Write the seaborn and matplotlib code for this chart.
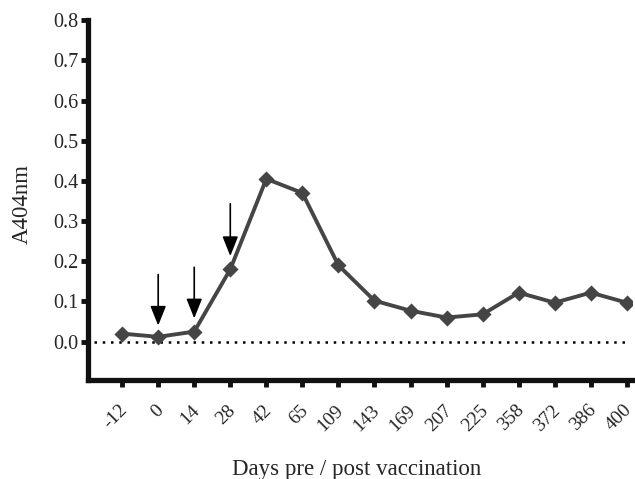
import numpy as np
import pandas as pd
import matplotlib
matplotlib.use("Agg")
import matplotlib.pyplot as plt
import matplotlib.transforms as mtransforms
import seaborn as sns

# days pre / post vaccination (categorical axis)
days = ["-12", "0", "14", "28", "42", "65", "109", "143", "169", "207",
        "225", "358", "372", "386", "400"]
a404 = [0.020, 0.012, 0.025, 0.180, 0.405, 0.370, 0.190, 0.102, 0.077,
        0.060, 0.068, 0.122, 0.097, 0.122, 0.097]

# vaccination arrows: day, top value, head value
arrow_days = ["0", "14", "28"]
arrow_top = [0.167, 0.185, 0.343]
arrow_tip = [0.040, 0.058, 0.213]

df = pd.DataFrame({"day": days, "A404nm": a404})

sns.set_theme(style="white")
plt.rcParams['font.family'] = ['Liberation Serif', 'DejaVu Serif']

fig = plt.figure(figsize=(6.35, 4.79), dpi=100)
ax = fig.add_axes([0.139, 0.207, 0.856, 0.751])

sns.pointplot(data=df, x="day", y="A404nm", order=days, color="#454545",
              markers="D", markersize=6.5, linewidth=2.8, ax=ax)

ax.axhline(0, color="black", linewidth=1.8, linestyle=(0, (1, 2.3)),
           xmin=0.01, xmax=0.99, zorder=1)

for d, top, tip in zip(arrow_days, arrow_top, arrow_tip):
    xi = days.index(d)
    ax.annotate("", xy=(xi, tip), xytext=(xi, top),
                arrowprops=dict(arrowstyle="-|>,head_length=1.0,head_width=0.4",
                                color="black", lw=1.2, shrinkA=0, shrinkB=0))

ax.set_xlim(-0.94, len(days) - 1 + 0.14)
ax.set_ylim(-0.095, 0.8)
ax.set_yticks(np.arange(0, 0.81, 0.1))
ax.set_yticklabels([f"{v:.1f}" for v in np.arange(0, 0.81, 0.1)])
ax.set_xticks(range(len(days)))

for s in ["top", "right"]:
    ax.spines[s].set_visible(False)
for s in ["left", "bottom"]:
    ax.spines[s].set_linewidth(3.8)
    ax.spines[s].set_color("#111111")

ax.tick_params(axis="both", direction="out", length=5, width=3.5,
               color="#111111", labelsize=14.5, pad=2, left=True, bottom=True)
ax.tick_params(axis="x", labelsize=14, pad=15)

# rotated day labels, nudged right (after tick_params, which resets transforms)
ax.set_xticklabels(days, rotation=45, ha="right", va="center",
                   rotation_mode="anchor")
shift = mtransforms.ScaledTranslation(2 / 72, 0, fig.dpi_scale_trans)
for lbl in ax.get_xticklabels():
    lbl.set_transform(lbl.get_transform() + shift)

ax.set_xlabel("Days pre / post vaccination", fontsize=16.5, va="center")
ax.xaxis.set_label_coords(0.493, -0.25)
ax.set_ylabel("A404nm", fontsize=16.5, va="center")
ax.yaxis.set_label_coords(-0.121, 0.49)

fig.savefig("out.png", dpi=100)
